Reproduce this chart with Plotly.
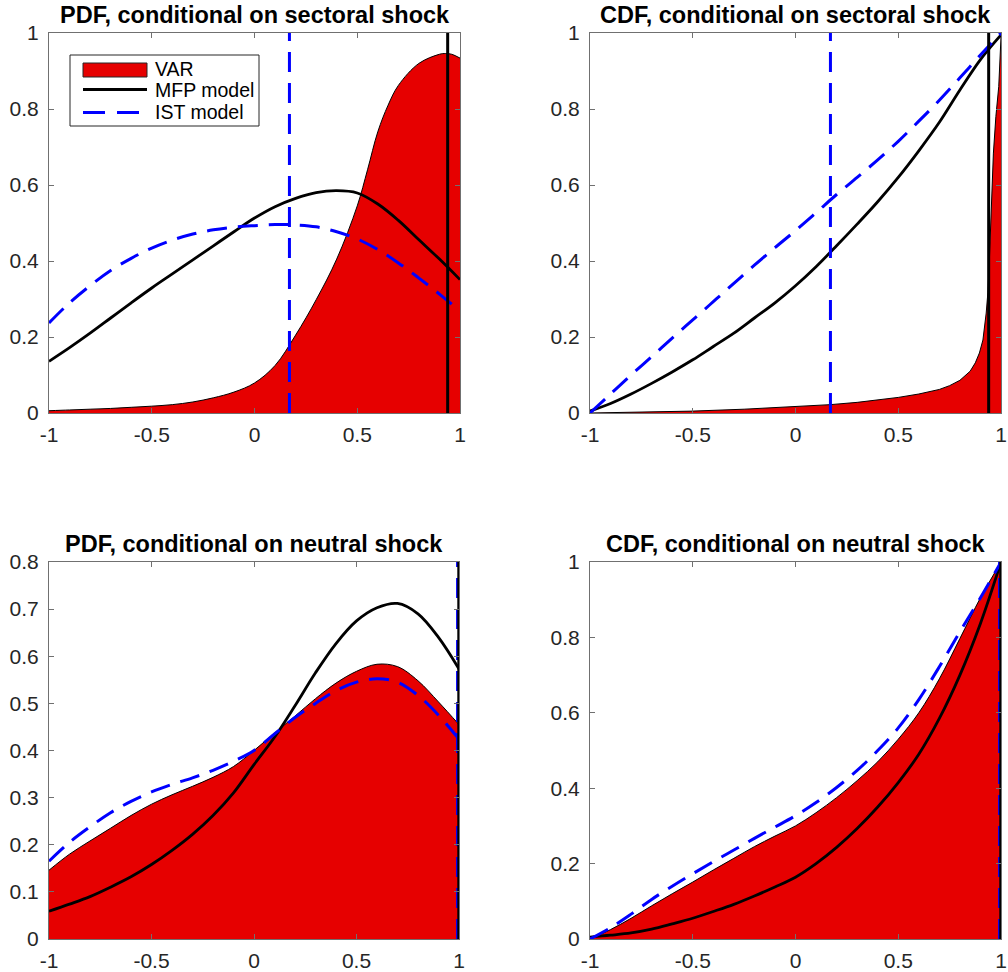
import plotly.graph_objects as go

# ---------------- data ----------------
grid = [-1, -0.9, -0.8, -0.7, -0.6, -0.5, -0.4, -0.3, -0.2, -0.1, 0,
        0.1, 0.2, 0.3, 0.4, 0.5, 0.6, 0.7, 0.8, 0.9, 1]

# Top-left: PDF, conditional on sectoral shock
pdf_sec_var_x = [-1, -0.9, -0.8, -0.7, -0.6, -0.5, -0.4, -0.3, -0.2, -0.1, 0,
                 0.1, 0.2, 0.3, 0.4, 0.5, 0.55, 0.6, 0.65, 0.7, 0.8, 0.9, 0.93, 0.96, 1]
pdf_sec_var_y = [0.006, 0.008, 0.01, 0.012, 0.015, 0.018, 0.022, 0.029, 0.04, 0.055, 0.079,
                 0.125, 0.205, 0.298, 0.405, 0.545, 0.64, 0.74, 0.81, 0.862, 0.92, 0.944, 0.946, 0.944, 0.934]
pdf_sec_mfp_y = [0.136, 0.172, 0.21, 0.25, 0.29, 0.329, 0.366, 0.403, 0.44, 0.477, 0.513,
                 0.543, 0.565, 0.58, 0.585, 0.579, 0.55, 0.507, 0.456, 0.405, 0.351]
pdf_sec_ist_y = [0.237, 0.29, 0.335, 0.375, 0.407, 0.434, 0.455, 0.471, 0.482, 0.489, 0.493,
                 0.496, 0.495, 0.49, 0.477, 0.458, 0.43, 0.395, 0.355, 0.313, 0.268]

# Top-right: CDF, conditional on sectoral shock
cdf_sec_var_x = [-1, -0.75, -0.5, -0.25, 0, 0.17, 0.3, 0.4, 0.5, 0.6, 0.7, 0.75, 0.8, 0.85, 0.875,
                 0.895, 0.912, 0.928, 0.936, 0.944, 0.952, 0.963, 0.975, 0.989, 1]
cdf_sec_var_y = [0, 0.002, 0.005, 0.01, 0.016, 0.022, 0.028, 0.034, 0.041, 0.05, 0.062, 0.072, 0.086, 0.11, 0.132,
                 0.158, 0.192, 0.263, 0.316, 0.41, 0.508, 0.684, 0.78, 0.859, 0.99]
cdf_sec_mfp_y = [0.005, 0.025, 0.05, 0.078, 0.108, 0.14, 0.175, 0.21, 0.25, 0.29, 0.335,
                 0.385, 0.44, 0.497, 0.556, 0.62, 0.69, 0.765, 0.85, 0.93, 0.995]
cdf_sec_ist_y = [0, 0.05, 0.1, 0.148, 0.197, 0.245, 0.293, 0.341, 0.389, 0.435, 0.48,
                 0.527, 0.575, 0.62, 0.666, 0.715, 0.768, 0.823, 0.882, 0.942, 1.0]

# Bottom-left: PDF, conditional on neutral shock
pdf_neu_var_y = [0.146, 0.18, 0.208, 0.235, 0.262, 0.286, 0.306, 0.324, 0.343, 0.366, 0.4,
                 0.437, 0.473, 0.51, 0.543, 0.568, 0.583, 0.578, 0.548, 0.503, 0.455]
pdf_neu_mfp_y = [0.059, 0.074, 0.09, 0.11, 0.132, 0.158, 0.188, 0.222, 0.262, 0.31, 0.37,
                 0.428, 0.495, 0.565, 0.627, 0.675, 0.703, 0.712, 0.69, 0.64, 0.573]
pdf_neu_ist_y = [0.165, 0.205, 0.238, 0.268, 0.292, 0.312, 0.328, 0.342, 0.358, 0.377, 0.4,
                 0.435, 0.47, 0.5, 0.527, 0.545, 0.552, 0.545, 0.517, 0.475, 0.424]

# Bottom-right: CDF, conditional on neutral shock
cdf_neu_var_y = [0, 0.025, 0.055, 0.088, 0.12, 0.151, 0.183, 0.214, 0.245, 0.273, 0.3,
                 0.335, 0.375, 0.42, 0.47, 0.53, 0.6, 0.69, 0.797, 0.905, 1.0]
cdf_neu_mfp_y = [0.005, 0.01, 0.016, 0.026, 0.04, 0.055, 0.073, 0.092, 0.114, 0.138, 0.164,
                 0.2, 0.243, 0.293, 0.35, 0.415, 0.49, 0.585, 0.7, 0.837, 1.0]
cdf_neu_ist_y = [0, 0.03, 0.066, 0.105, 0.14, 0.173, 0.205, 0.236, 0.267, 0.297, 0.327,
                 0.362, 0.402, 0.447, 0.5, 0.56, 0.635, 0.722, 0.815, 0.905, 1.0]

# Vertical reference lines (model-implied values)
vline_sec_mfp = 0.94
vline_sec_ist = 0.17
vline_neu_mfp = 0.999
vline_neu_ist = 0.993

titles = ["PDF, conditional on sectoral shock", "CDF, conditional on sectoral shock",
          "PDF, conditional on neutral shock", "CDF, conditional on neutral shock"]
x_ticks = [-1, -0.5, 0, 0.5, 1]
x_tick_labels = ["-1", "-0.5", "0", "0.5", "1"]
y_ticks_unit = [0, 0.2, 0.4, 0.6, 0.8, 1]
y_tick_labels_unit = ["0", "0.2", "0.4", "0.6", "0.8", "1"]
y_ticks_pdf_neu = [0, 0.1, 0.2, 0.3, 0.4, 0.5, 0.6, 0.7, 0.8]
y_tick_labels_pdf_neu = ["0", "0.1", "0.2", "0.3", "0.4", "0.5", "0.6", "0.7", "0.8"]
legend_labels = ["VAR", "MFP model", "IST model"]

# ---------------- styling ----------------
W, H = 1008, 972
RED = "rgb(230,0,0)"
BLUE = "rgb(0,0,255)"
FONT = "Liberation Sans, Arial, sans-serif"
AXC = "#707070"
TXC = "#262626"
DASH = "20px,11px"


def px(x):
    return min(1.0, max(0.0, x / W))


def py(y):
    return min(1.0, max(0.0, 1 - y / H))


panels = [
    dict(var=(pdf_sec_var_x, pdf_sec_var_y), mfp=(grid, pdf_sec_mfp_y), ist=(grid, pdf_sec_ist_y),
         vm=vline_sec_mfp, vi=vline_sec_ist, ymax=1, yt=y_ticks_unit, ytl=y_tick_labels_unit, spline=True),
    dict(var=(cdf_sec_var_x, cdf_sec_var_y), mfp=(grid, cdf_sec_mfp_y), ist=(grid, cdf_sec_ist_y),
         vm=vline_sec_mfp, vi=vline_sec_ist, ymax=1, yt=y_ticks_unit, ytl=y_tick_labels_unit, spline=False),
    dict(var=(grid, pdf_neu_var_y), mfp=(grid, pdf_neu_mfp_y), ist=(grid, pdf_neu_ist_y),
         vm=vline_neu_mfp, vi=vline_neu_ist, ymax=0.8, yt=y_ticks_pdf_neu, ytl=y_tick_labels_pdf_neu, spline=True),
    dict(var=(grid, cdf_neu_var_y), mfp=(grid, cdf_neu_mfp_y), ist=(grid, cdf_neu_ist_y),
         vm=vline_neu_mfp, vi=vline_neu_ist, ymax=1, yt=y_ticks_unit, ytl=y_tick_labels_unit, spline=True),
]

# pixel boxes (page pixels) of each plot area: (left, right, top, bottom)
boxes = [(49, 460, 33, 413), (590, 1001, 33, 413), (49, 459, 562, 939), (590, 1001, 562, 939)]

fig = go.Figure()
layout = dict(width=W, height=H, autosize=False, margin=dict(l=0, r=0, t=0, b=0, autoexpand=False),
              paper_bgcolor="white", plot_bgcolor="white", showlegend=False,
              font=dict(family=FONT, color=TXC))
annotations = []
shapes = []

for i, (p, box) in enumerate(zip(panels, boxes)):
    n = "" if i == 0 else str(i + 1)
    xa, ya = "x" + n, "y" + n
    l, r, t, b = box
    common = dict(ticks="inside", ticklen=5, tickcolor=AXC, showline=True, linecolor=AXC, linewidth=1,
                  mirror="ticks", showgrid=False, zeroline=False, tickfont=dict(size=21, color=TXC),
                  automargin=False)
    layout["xaxis" + n] = dict(domain=[px(l), px(r)], range=[-1, 1], anchor=ya,
                               tickvals=x_ticks, ticktext=x_tick_labels, ticklabelstandoff=3, **common)
    layout["yaxis" + n] = dict(domain=[py(b), py(t)], range=[0, p["ymax"]], anchor=xa,
                               tickvals=p["yt"], ticktext=p["ytl"], ticklabelstandoff=5, **common)
    shape = "spline" if p["spline"] else "linear"
    fig.add_trace(go.Scatter(x=p["var"][0], y=p["var"][1], xaxis=xa, yaxis=ya, mode="lines",
                             fill="tozeroy", fillcolor=RED, line=dict(color="black", width=1, shape=shape,
                             smoothing=1), name="VAR"))
    fig.add_trace(go.Scatter(x=p["mfp"][0], y=p["mfp"][1], xaxis=xa, yaxis=ya, mode="lines",
                             line=dict(color="black", width=2.8, shape="spline", smoothing=1), name="MFP model"))
    fig.add_trace(go.Scatter(x=p["ist"][0], y=p["ist"][1], xaxis=xa, yaxis=ya, mode="lines",
                             line=dict(color=BLUE, width=3, dash=DASH, shape="spline", smoothing=1),
                             name="IST model"))
    fig.add_trace(go.Scatter(x=[p["vi"], p["vi"]], y=[0, p["ymax"]], xaxis=xa, yaxis=ya, mode="lines",
                             line=dict(color=BLUE, width=3, dash=DASH), name="IST model value"))
    fig.add_trace(go.Scatter(x=[p["vm"], p["vm"]], y=[0, p["ymax"]], xaxis=xa, yaxis=ya, mode="lines",
                             line=dict(color="black", width=3), name="MFP model value"))
    annotations.append(dict(text="<b>" + titles[i] + "</b>", xref="paper", yref="paper",
                            x=px((l + r) / 2), y=py(t - 18), xanchor="center", yanchor="middle",
                            showarrow=False, font=dict(size=23.5, color="black", family=FONT)))

# ---------------- legend (top-left panel) ----------------
shapes.append(dict(type="rect", xref="paper", yref="paper", x0=px(70), x1=px(259), y0=py(126), y1=py(55),
                   line=dict(color="#262626", width=1), fillcolor="white", layer="above"))
shapes.append(dict(type="rect", xref="paper", yref="paper", x0=px(83), x1=px(147), y0=py(77), y1=py(63),
                   line=dict(color="#262626", width=1), fillcolor=RED, layer="above"))
shapes.append(dict(type="line", xref="paper", yref="paper", x0=px(83), x1=px(147), y0=py(89.5), y1=py(89.5),
                   line=dict(color="black", width=2.8), layer="above"))
shapes.append(dict(type="line", xref="paper", yref="paper", x0=px(83), x1=px(147), y0=py(112.5), y1=py(112.5),
                   line=dict(color=BLUE, width=3, dash="22px,12px"), layer="above"))
for lab, yy in zip(legend_labels, [68.5, 90, 112]):
    annotations.append(dict(text=lab, xref="paper", yref="paper", x=px(153), y=py(yy), xanchor="left",
                            yanchor="middle", showarrow=False, font=dict(size=19.5, color="black", family=FONT)))

layout["annotations"] = annotations
layout["shapes"] = shapes
fig.update_layout(**layout)
fig.write_html("out.html", config={"displayModeBar": False},
               post_script="document.body.style.margin='0';document.body.style.overflow='hidden';"
                           "document.documentElement.style.overflow='hidden';")
